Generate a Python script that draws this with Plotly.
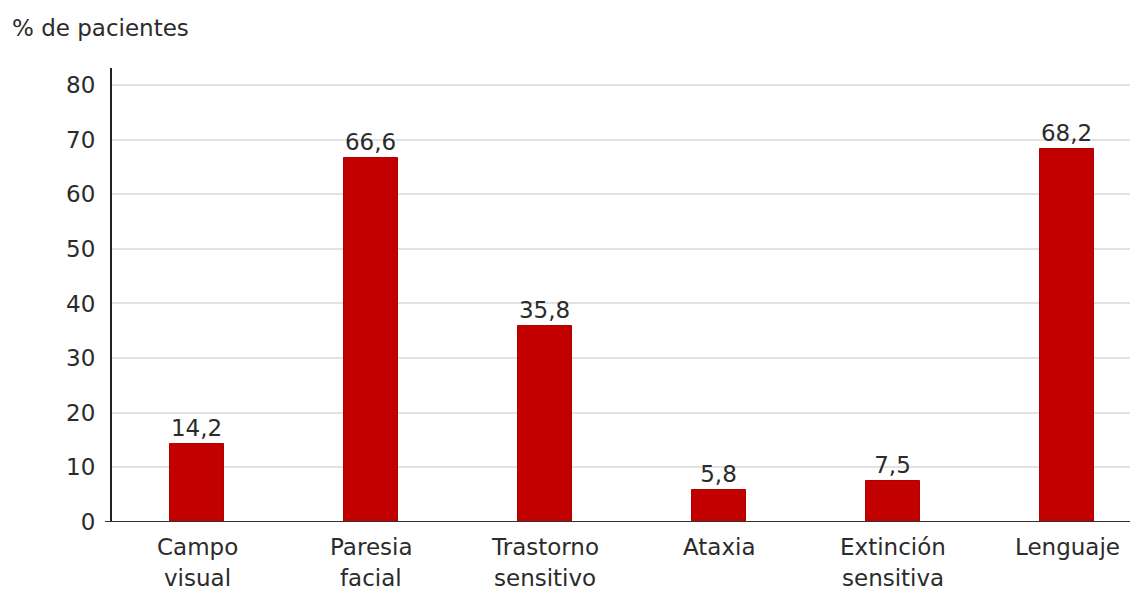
import plotly.graph_objects as go

# Déficits neurológicos: porcentaje de pacientes por categoría
categorias = ["Campo visual", "Paresia facial", "Trastorno sensitivo",
              "Ataxia", "Extinción sensitiva", "Lenguaje"]
etiquetas_eje = [["Campo", "visual"], ["Paresia", "facial"], ["Trastorno", "sensitivo"],
                 ["Ataxia"], ["Extinción", "sensitiva"], ["Lenguaje"]]
porcentajes = [14.2, 66.6, 35.8, 5.8, 7.5, 68.2]
marcas_y = [0, 10, 20, 30, 40, 50, 60, 70, 80]

FUENTE = "DejaVu Sans, Verdana, sans-serif"
TAM = 23
TEXTO = "#2b2b2b"
ROJO = "#c30000"

W, H = 1130, 594
M_IZQ, M_SUP, M_INF = 112, 68, 72

x_pos = list(range(len(categorias)))
textos = [f"{v:.1f}".replace(".", ",") for v in porcentajes]

fig = go.Figure()
fig.add_trace(go.Bar(
    x=x_pos, y=porcentajes, width=0.31,
    marker=dict(color=ROJO, line=dict(color="#b00000", width=1)),
    text=textos, textposition="outside", cliponaxis=False,
    textfont=dict(family=FUENTE, size=TAM, color=TEXTO),
    hovertext=categorias, hoverinfo="text+y",
))

# Etiquetas de categoría en una o dos líneas
for i, lineas in enumerate(etiquetas_eje):
    for j, linea in enumerate(lineas):
        fig.add_annotation(
            x=i, y=0, xref="x", yref="paper", text=linea, showarrow=False,
            xanchor="center", yanchor="top", yshift=-10 - 31 * j,
            font=dict(family=FUENTE, size=TAM, color=TEXTO),
        )

# Título del eje Y, en la esquina superior izquierda
alto_trazado = H - M_SUP - M_INF
ancho_trazado = W - M_IZQ
fig.add_annotation(
    text="% de pacientes", showarrow=False, xref="paper", yref="paper",
    x=(10 - M_IZQ) / ancho_trazado, y=1 + (M_SUP - 28) / alto_trazado,
    xanchor="left", yanchor="middle",
    font=dict(family=FUENTE, size=TAM, color=TEXTO),
)

fig.update_layout(
    width=W, height=H,
    margin=dict(l=M_IZQ, r=0, t=M_SUP, b=M_INF),
    paper_bgcolor="white", plot_bgcolor="white",
    showlegend=False, bargap=0,
    shapes=[
        # eje X prolongado hacia la izquierda
        dict(type="line", xref="paper", yref="y", x0=-7 / ancho_trazado, x1=1, y0=0, y1=0,
             line=dict(color="#333333", width=2)),
    ],
)
fig.update_xaxes(
    range=[-0.49, 5.36], showticklabels=False, showgrid=False,
    zeroline=False, showline=False, fixedrange=True,
)
fig.update_yaxes(
    range=[0, 83.1], tickvals=marcas_y, ticktext=[str(v) for v in marcas_y],
    showgrid=True, gridcolor="#e2e2e2", gridwidth=2,
    zeroline=False, showline=True, linecolor="#222222", linewidth=2,
    ticks="", ticklabelstandoff=10,
    tickfont=dict(family=FUENTE, size=TAM, color=TEXTO),
)

fig.write_html("out.html")
